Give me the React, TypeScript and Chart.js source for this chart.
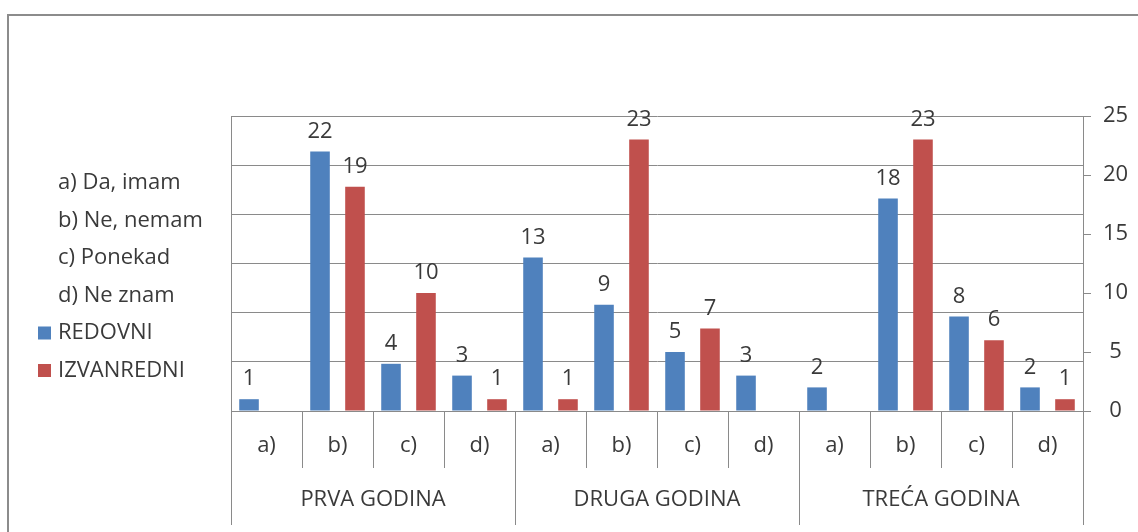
import React, { useEffect, useRef } from 'react';
import { Chart, registerables } from 'chart.js';

Chart.register(...registerables);

const categories = ['a)', 'b)', 'c)', 'd)', 'a)', 'b)', 'c)', 'd)', 'a)', 'b)', 'c)', 'd)'];
const groups = ['PRVA GODINA', 'DRUGA GODINA', 'TREĆA GODINA'];
const redovni: (number | null)[] = [1, 22, 4, 3, 13, 9, 5, 3, 2, 18, 8, 2];
const izvanredni: (number | null)[] = [null, 19, 10, 1, 1, 23, 7, null, null, 23, 6, 1];
const answerLabels = ['a) Da, imam', 'b) Ne, nemam', 'c) Ponekad', 'd) Ne znam'];
const seriesNames = ['REDOVNI', 'IZVANREDNI'];
const seriesColors = ['#4F81BD', '#C0504D'];
const rightMin = 0;
const rightMax = 25;
const rightStep = 5;

const FONT = '"Open Sans", sans-serif';
const FS = 22;
const TEXT = '#3a3a3a';
const LINE = '#8a8a8a';

const framePlugin = {
  id: 'frame',
  beforeDraw(chart: any) {
    const ctx = chart.ctx;
    ctx.save();
    ctx.strokeStyle = '#8c8c8c';
    ctx.lineWidth = 2;
    ctx.beginPath();
    ctx.moveTo(8, chart.height);
    ctx.lineTo(8, 15);
    ctx.lineTo(chart.width, 15);
    ctx.stroke();
    ctx.restore();
  },
};

const legendPlugin = {
  id: 'sideLegend',
  afterDraw(chart: any) {
    const ctx = chart.ctx;
    ctx.save();
    ctx.font = `${FS}px ${FONT}`;
    ctx.textBaseline = 'middle';
    ctx.textAlign = 'left';
    const items: { text: string; color: string | null }[] = [
      ...answerLabels.map((t) => ({ text: t, color: null })),
      ...seriesNames.map((t, i) => ({ text: t, color: seriesColors[i] })),
    ];
    items.forEach((it, i) => {
      const y = 183 + i * 37.5;
      if (it.color) {
        ctx.fillStyle = it.color;
        ctx.fillRect(38, y - 6.5, 13, 13);
      }
      ctx.fillStyle = TEXT;
      ctx.fillText(it.text, 58, y);
    });
    ctx.restore();
  },
};

const valueLabelPlugin = {
  id: 'valueLabels',
  afterDatasetsDraw(chart: any) {
    const ctx = chart.ctx;
    ctx.save();
    ctx.font = `${FS}px ${FONT}`;
    ctx.fillStyle = TEXT;
    ctx.textAlign = 'center';
    ctx.textBaseline = 'middle';
    chart.data.datasets.forEach((ds: any, di: number) => {
      const meta = chart.getDatasetMeta(di);
      meta.data.forEach((el: any, i: number) => {
        const v = ds.data[i];
        if (v === null || v === undefined) return;
        ctx.fillText(String(v), el.x, el.y - 20);
      });
    });
    ctx.restore();
  },
};

export default function App() {
  const ref = useRef<HTMLCanvasElement | null>(null);

  useEffect(() => {
    if (!ref.current) return;
    const chart = new Chart(ref.current, {
      type: 'bar',
      data: {
        labels: categories,
        datasets: [
          {
            label: seriesNames[0],
            data: redovni,
            backgroundColor: seriesColors[0],
            xAxisID: 'x',
            yAxisID: 'y',
            categoryPercentage: 0.985,
            barPercentage: 0.56,
          },
          {
            label: seriesNames[1],
            data: izvanredni,
            backgroundColor: seriesColors[1],
            xAxisID: 'x',
            yAxisID: 'y',
            categoryPercentage: 0.985,
            barPercentage: 0.56,
          },
        ] as any,
      },
      options: {
        responsive: false,
        animation: false,
        events: [],
        layout: { padding: { left: 231, top: 116, right: 0, bottom: 7 } },
        plugins: {
          legend: { display: false },
          tooltip: { enabled: false },
        },
        scales: {
          x: {
            type: 'category',
            position: 'bottom',
            weight: 0,
            offset: true,
            grid: {
              offset: true,
              drawOnChartArea: false,
              drawTicks: true,
              tickLength: 57,
              color: LINE,
            },
            border: { display: true, color: LINE },
            ticks: {
              autoSkip: false,
              maxRotation: 0,
              padding: -35,
              color: TEXT,
              font: { family: FONT, size: FS },
            },
            afterFit: (s: any) => {
              s.height = 57;
            },
          },
          x2: {
            type: 'category',
            position: 'bottom',
            weight: 1,
            labels: groups,
            offset: true,
            grid: {
              offset: true,
              drawOnChartArea: false,
              drawTicks: true,
              tickLength: 57,
              color: LINE,
            },
            border: { display: false },
            ticks: {
              autoSkip: false,
              maxRotation: 0,
              padding: -38,
              color: TEXT,
              font: { family: FONT, size: FS },
            },
            afterFit: (s: any) => {
              s.height = 57;
            },
          },
          y0: {
            type: 'linear',
            position: 'left',
            min: 0,
            max: 6,
            ticks: { display: false, stepSize: 1 },
            grid: { color: LINE, drawTicks: false },
            border: { display: true, color: LINE },
            afterFit: (s: any) => {
              s.width = 0;
            },
          },
          y: {
            type: 'linear',
            position: 'right',
            min: rightMin,
            max: rightMax,
            ticks: {
              stepSize: rightStep,
              crossAlign: 'center',
              padding: 12,
              color: TEXT,
              font: { family: FONT, size: FS },
            },
            grid: { drawOnChartArea: false, drawTicks: true, tickLength: 8, color: LINE },
            border: { display: true, color: LINE },
            afterFit: (s: any) => {
              s.width = 55;
            },
          },
        } as any,
      },
      plugins: [framePlugin, valueLabelPlugin, legendPlugin],
    });
    return () => chart.destroy();
  }, []);

  return (
    <div style={{ position: 'fixed', left: 0, top: 0, width: 1138, height: 532, background: '#fff' }}>
      <canvas ref={ref} width={1138} height={532} style={{ display: 'block' }} />
    </div>
  );
}
